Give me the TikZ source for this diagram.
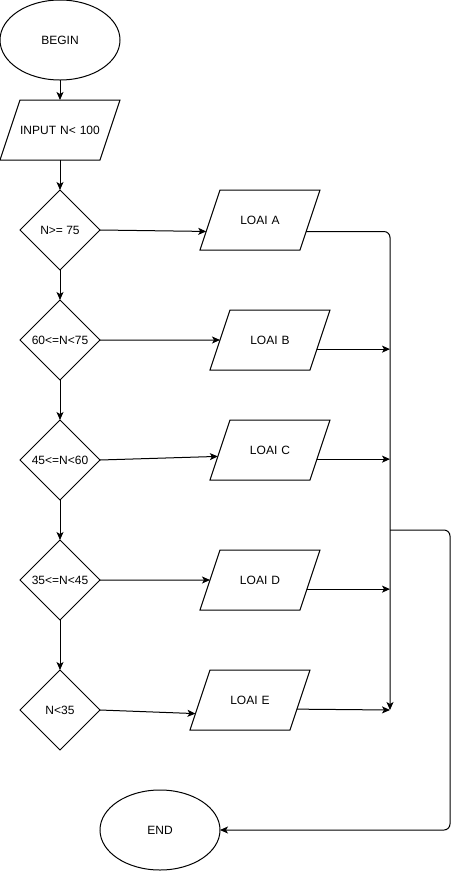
\documentclass[tikz,border=0pt]{standalone}
\usepackage{fontspec}
\setmainfont{Liberation Sans}
\usetikzlibrary{shapes.geometric,arrows.meta}

\begin{document}
\begin{tikzpicture}[x=1pt,y=-1pt,font=\fontsize{12}{14}\selectfont,
	every node/.style={draw,line width=1pt,inner sep=0pt,outer sep=0pt},
	term/.style={ellipse,minimum width=120pt,minimum height=80pt},
	io/.style={trapezium,trapezium left angle=71.57,trapezium right angle=108.43,
		text width=80pt,align=center,inner xsep=0pt,inner ysep=25.7pt,
		text height=8.6pt,text depth=0pt},
	test/.style={diamond,minimum width=80pt,minimum height=80pt},
	arr/.style={line width=1pt,-{Stealth[length=8pt,width=7pt,inset=2pt]}}]
\useasboundingbox (0,0) rectangle (459,871);

% start, input
\node[term] (begin) at (60,40) {BEGIN};
\node[io] (input) at (60,130) {INPUT N< 100};

% tests
\node[test] (t1) at (60,230) {N>= 75};
\node[test] (t2) at (60,340) {60<=N<75};
\node[test] (t3) at (60,460) {45<=N<60};
\node[test] (t4) at (60,580) {35<=N<45};
\node[test] (t5) at (60,710) {N<35};

% outputs
\node[io] (la) at (260,220) {LOAI A};
\node[io] (lb) at (270,340) {LOAI B};
\node[io] (lc) at (270,450) {LOAI C};
\node[io] (ld) at (260,580) {LOAI D};
\node[io] (le) at (250,700) {LOAI E};

\node[term] (fin) at (160,830) {END};

\coordinate (merge) at (390,710);
\coordinate (split) at (390,530);
\coordinate (rgt) at (450,530);

\draw[arr] (begin) -- (input);
\draw[arr] (input) -- (t1);
\draw[arr] (t1) -- (t2);
\draw[arr] (t2) -- (t3);
\draw[arr] (t3) -- (t4);
\draw[arr] (t4) -- (t5);

\draw[arr] (t1.east) -- (la.192);
\draw[arr] (t2.east) -- (lb.west);
\draw[arr] (t3.east) -- (lc.187);
\draw[arr] (t4.east) -- (ld.west);
\draw[arr] (t5.east) -- (le.194);

\draw[arr,rounded corners=6pt] (la.-14) -| (merge);
\draw[arr] (lb.-11) -- (lb.-11 -| merge);
\draw[arr] (lc.-11) -- (lc.-11 -| merge);
\draw[arr] (ld.-11) -- (ld.-11 -| merge);
\draw[arr] (le.-11) -- (merge);

\draw[arr,rounded corners=6pt] (split) -- (rgt) |- (fin);
\end{tikzpicture}
\end{document}
